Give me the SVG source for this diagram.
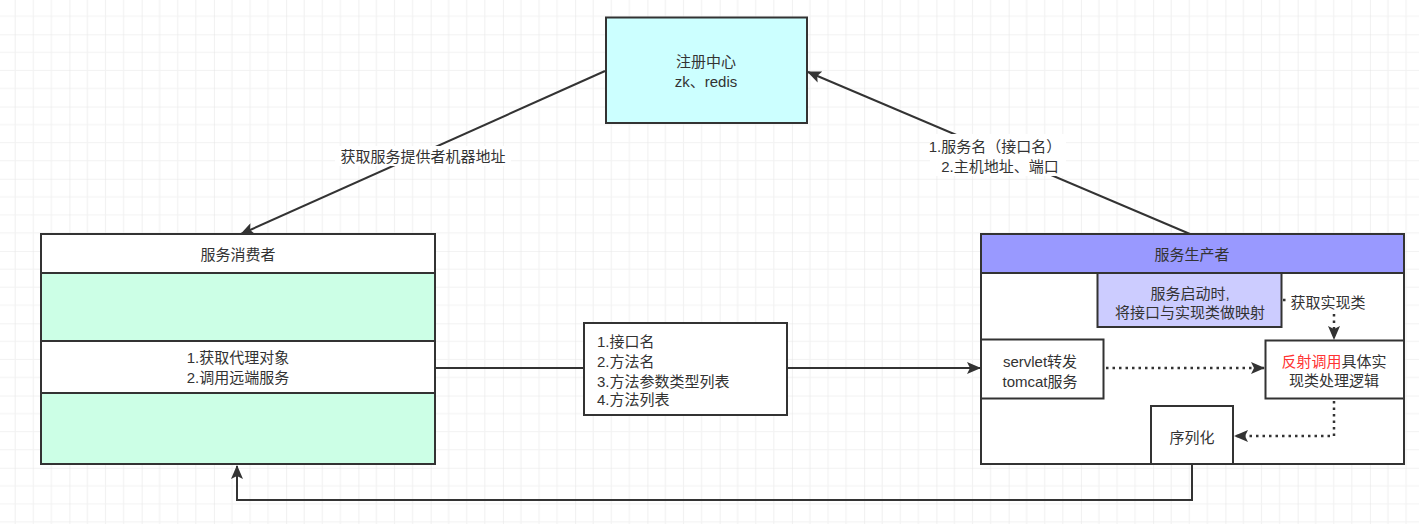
<svg xmlns="http://www.w3.org/2000/svg" width="1419" height="524" viewBox="0 0 1419 524">
<style>
text{font-family:"Liberation Sans","Noto Sans CJK SC",sans-serif;font-size:15px;fill:#333;text-anchor:middle;dominant-baseline:central}
.box{stroke:#333;stroke-width:2}
.line{fill:none;stroke:#333;stroke-width:2}
.dot{fill:none;stroke:#333;stroke-width:2.5;stroke-dasharray:2.5 4}
.lbl{fill:#fff}
</style>
<defs>
<pattern id="grid" patternUnits="userSpaceOnUse" x="-2.85" y="34.3" width="72.25" height="72.25">
<path d="M18.06 0V72.25M36.12 0V72.25M54.19 0V72.25M0 18.06H72.25M0 36.12H72.25M0 54.19H72.25" stroke="#f2f2f2" stroke-width="1.2" fill="none"/>
<path d="M0 0V72.25M0 0H72.25" stroke="#e6e6e6" stroke-width="1.2" fill="none"/>
</pattern>
<marker id="arrL" viewBox="0 0 14 12" refX="13" refY="6" markerWidth="14" markerHeight="12" markerUnits="userSpaceOnUse" orient="auto">
<path d="M0 0L14 6L0 12L3 6Z" fill="#333"/>
</marker>
</defs>
<rect width="1419" height="524" fill="#fff"/>
<rect width="1419" height="524" fill="url(#grid)"/>

<g id="registry">
<rect class="box" x="606" y="17.5" width="201" height="105.5" fill="#ccffff"/>
<text x="706" y="61">注册中心</text>
<text x="706" y="81">zk、redis</text>
</g>

<g id="consumer">
<rect class="box" x="41" y="234" width="394" height="230" fill="#fff"/>
<rect class="box" x="41" y="273" width="394" height="68" fill="#ccffe6"/>
<rect class="box" x="41" y="341" width="394" height="52" fill="#fff"/>
<rect class="box" x="41" y="393" width="394" height="71" fill="#ccffe6"/>
<text x="238" y="254">服务消费者</text>
<text x="238" y="357">1.获取代理对象</text>
<text x="238" y="377">2.调用远端服务</text>
</g>

<g id="message">
<rect class="box" x="584" y="323" width="203" height="92" fill="#fff"/>
<text x="597" y="341.5" style="text-anchor:start">1.接口名</text>
<text x="597" y="361.5" style="text-anchor:start">2.方法名</text>
<text x="597" y="381" style="text-anchor:start">3.方法参数类型列表</text>
<text x="597" y="399.5" style="text-anchor:start">4.方法列表</text>
</g>

<g id="producer">
<rect class="box" x="981" y="234" width="423" height="230" fill="#fff"/>
<rect class="box" x="981" y="234" width="423" height="39" fill="#9999ff"/>
<text x="1192" y="254">服务生产者</text>
</g>

<g id="mapping">
<rect class="box" x="1097.5" y="273" width="184" height="54" fill="#ccccff"/>
<text x="1190" y="293">服务启动时,</text>
<text x="1190" y="312">将接口与实现类做映射</text>
</g>

<g id="servlet">
<rect class="box" x="981" y="339.5" width="122.5" height="59" fill="#fff"/>
<text x="1040" y="361">servlet转发</text>
<text x="1040" y="381">tomcat服务</text>
</g>

<g id="reflect">
<rect class="box" x="1265.5" y="340.5" width="138.5" height="58" fill="#fff"/>
<text x="1334" y="361"><tspan fill="#ff3333">反射调用</tspan>具体实</text>
<text x="1334" y="380">现类处理逻辑</text>
</g>

<g id="serialize">
<rect class="box" x="1151" y="406" width="82" height="58" fill="#fff"/>
<text x="1192" y="437">序列化</text>
</g>

<g id="connectors">
<line class="line" x1="605" y1="71" x2="241" y2="234" marker-end="url(#arrL)"/>
<line class="line" x1="1190" y1="234" x2="808" y2="72" marker-end="url(#arrL)"/>
<line class="line" x1="436" y1="368" x2="583" y2="368"/>
<line class="line" x1="788" y1="368" x2="980" y2="368" marker-end="url(#arrL)"/>
<line class="dot" x1="1106" y1="368" x2="1264" y2="368" marker-end="url(#arrL)"/>
<polyline class="dot" points="1283,300 1334,300 1334,339" marker-end="url(#arrL)"/>
<polyline class="dot" points="1334,401 1334,436 1235,436" marker-end="url(#arrL)"/>
<polyline class="line" points="1192,465 1192,500 237,500 237,466" marker-end="url(#arrL)"/>
</g>

<g id="label-fetch">
<rect class="lbl" x="335" y="146" width="176" height="20"/>
<text x="423" y="156">获取服务提供者机器地址</text>
</g>
<g id="label-register">
<rect class="lbl" x="930" y="134" width="136" height="42"/>
<text x="995" y="146">1.服务名（接口名）</text>
<text x="1000" y="166">2.主机地址、端口</text>
</g>
<g id="label-impl">
<rect class="lbl" x="1288" y="291" width="82" height="20"/>
<text x="1328" y="302">获取实现类</text>
</g>
</svg>
